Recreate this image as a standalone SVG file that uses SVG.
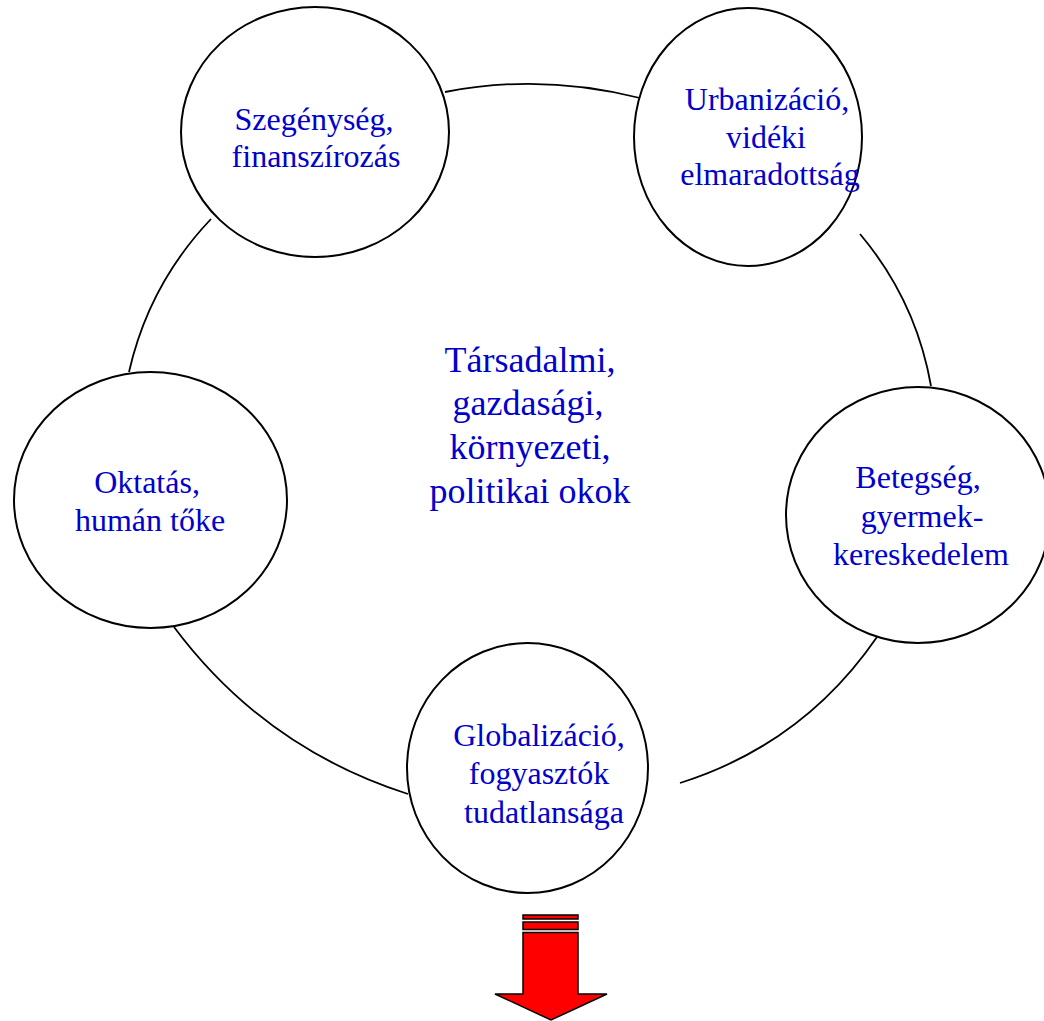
<svg xmlns="http://www.w3.org/2000/svg" width="1044" height="1021" viewBox="0 0 1044 1021">
<style>
.arc{fill:none;stroke:#000;stroke-width:1.8}
.node{fill:#fff;stroke:#000;stroke-width:2}
.lbl{font-family:"Liberation Serif","Times New Roman",serif;font-size:32px;fill:#0000CC;text-anchor:middle}
.big{font-size:36px}
.arrow{fill:#FF0000;stroke:#000;stroke-width:1.5;stroke-linejoin:miter}
</style>
<rect width="1044" height="1021" fill="#fff"/>
<g id="connectors">
<path class="arc" d="M445,92 Q541.5,73 640,98"/>
<path class="arc" d="M860,234 Q916,300.4 931,386"/>
<path class="arc" d="M877,637 Q803.5,744 680,783"/>
<path class="arc" d="M408,794 Q264.3,748 174,627"/>
<path class="arc" d="M129,372 Q148.9,284.2 211,219"/>
</g>
<g id="center">
<text class="lbl big" x="530" y="372">Társadalmi,</text>
<text class="lbl big" x="528" y="415">gazdasági,</text>
<text class="lbl big" x="530" y="459">környezeti,</text>
<text class="lbl big" x="530" y="503">politikai okok</text>
</g>
<g id="node-szegenyseg">
<ellipse class="node" cx="315" cy="132" rx="134" ry="125"/>
<text class="lbl" x="314" y="130">Szegénység,</text>
<text class="lbl" x="316" y="167">finanszírozás</text>
</g>
<g id="node-urbanizacio">
<ellipse class="node" cx="748" cy="137" rx="114" ry="129"/>
<text class="lbl" x="767" y="110">Urbanizáció,</text>
<text class="lbl" x="766" y="148">vidéki</text>
<text class="lbl" x="770" y="185">elmaradottság</text>
</g>
<g id="node-betegseg">
<ellipse class="node" cx="918" cy="515" rx="132" ry="128"/>
<text class="lbl" x="918" y="488">Betegség,</text>
<text class="lbl" x="922" y="527">gyermek-</text>
<text class="lbl" x="921" y="565">kereskedelem</text>
</g>
<g id="node-globalizacio">
<ellipse class="node" cx="527.5" cy="768" rx="120.5" ry="125"/>
<text class="lbl" x="539" y="746">Globalizáció,</text>
<text class="lbl" x="539" y="784">fogyasztók</text>
<text class="lbl" x="544" y="823">tudatlansága</text>
</g>
<g id="node-oktatas">
<ellipse class="node" cx="150.5" cy="500" rx="136.5" ry="128"/>
<text class="lbl" x="147" y="493">Oktatás,</text>
<text class="lbl" x="150" y="531">humán tőke</text>
</g>
<g id="arrow">
<rect class="arrow" x="523" y="915" width="55" height="4"/>
<rect class="arrow" x="523" y="922" width="55" height="7.5"/>
<polygon class="arrow" points="523,932.5 578,932.5 578,994 607,994 551,1020 495,994 523,994"/>
</g>
</svg>
